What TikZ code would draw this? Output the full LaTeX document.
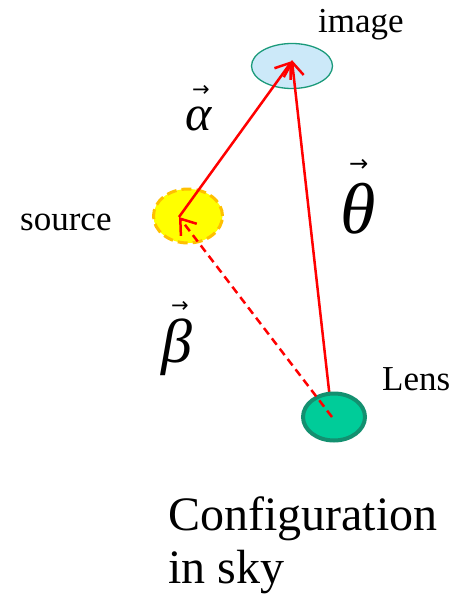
\documentclass[tikz,border=0pt]{standalone}
\usepackage{fontspec}
\setmainfont{Liberation Serif}
\newfontfamily\arrowfont{DejaVu Sans}
\usetikzlibrary{shapes.geometric,arrows.meta}
\definecolor{imgfill}{HTML}{CCE9F9}
\definecolor{imgline}{HTML}{1A9A7A}
\definecolor{srcfill}{HTML}{FFFF00}
\definecolor{srcline}{HTML}{FFC000}
\definecolor{lensfill}{HTML}{00CC99}
\definecolor{lensline}{HTML}{139070}
\definecolor{ray}{HTML}{FF0000}
\newcommand\vecsym[4]{\rlap{\hspace{#2}\raisebox{#3}{\arrowfont\fontsize{#4}{#4}\selectfont →}}{\itshape #1}}
\tikzset{
  blob/.style={ellipse, inner sep=0pt},
  lbl/.style={anchor=base west, inner sep=0pt, font=\fontsize{35}{40}\selectfont},
  big/.style={anchor=base west, inner sep=0pt, font=\fontsize{48}{60}\selectfont},
  greek/.style={anchor=base west, inner sep=0pt},
  rayline/.style={draw=ray, line width=2.5pt, -{Straight Barb[length=14pt,width=20pt,line width=2.5pt]}}
}
\begin{document}
\begin{tikzpicture}[x=1pt,y=-1pt]
\useasboundingbox (0,0) rectangle (467,597);
\node[blob, fill=imgfill, draw=imgline, line width=1.3pt, minimum width=81pt, minimum height=45pt] (img) at (292,66) {};
\node[blob, fill=srcfill, draw=srcline, line width=3pt, dash pattern=on 10pt off 5pt, minimum width=69pt, minimum height=54pt] (src) at (188,216) {};
\coordinate (ip) at (292,61);
\coordinate (sp) at (179,217);
\coordinate (lp) at (332,417);
\draw[rayline, shorten >=-1pt] (lp) -- (ip);
\node[blob, fill=lensfill, draw=lensline, line width=4pt, minimum width=62pt, minimum height=47pt] (lens) at (334,417) {};
\draw[rayline] (sp) -- (ip);
\draw[rayline, dash pattern=on 8pt off 5pt] (lp) -- (sp);
\node[lbl] (limg) at (318,32) {image};
\node[lbl] (lsrc) at (20,230) {source};
\node[lbl] (llens) at (382,390) {Lens};
\node[big] (cfg) at (168,530) {Configuration};
\node[big] (sky) at (168,583) {in sky};
\node[greek, font=\fontsize{50}{50}\selectfont] (ga) at (185,130) {\vecsym{α}{7pt}{34pt}{21pt}};
\node[greek, font=\fontsize{72}{72}\selectfont] (gt) at (340,233) {\vecsym{θ}{9pt}{62pt}{23pt}};
\node[greek, font=\fontsize{62}{62}\selectfont] (gb) at (161,362) {\vecsym{β}{10pt}{50pt}{21pt}};
\end{tikzpicture}
\end{document}
